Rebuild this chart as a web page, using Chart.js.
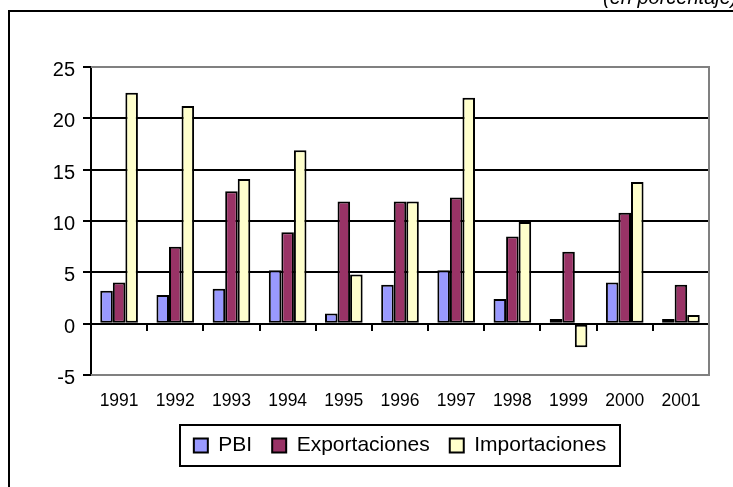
<!DOCTYPE html>
<html>
<head>
<meta charset="utf-8">
<script src="https://cdn.jsdelivr.net/npm/chart.js@4.4.1/dist/chart.umd.min.js"></script>
<style>
  body { margin: 0; background: #fff; }
</style>
</head>
<body>
<canvas id="grafico" width="733" height="487"></canvas>
<script>
// datos (en porcentaje)
var anios = ['1991', '1992', '1993', '1994', '1995', '1996', '1997', '1998', '1999', '2000', '2001'];
var pbi = [3.2, 2.8, 3.4, 5.2, 1.0, 3.8, 5.2, 2.4, 0.45, 4.0, 0.45];
var exportaciones = [4.0, 7.5, 12.9, 8.9, 11.9, 11.9, 12.3, 8.5, 7.0, 10.8, 3.8];
var importaciones = [22.5, 21.2, 14.1, 16.9, 4.8, 11.9, 22.0, 9.9, -2.3, 13.8, 0.85];
var yTicks = [-5, 0, 5, 10, 15, 20, 25];

var fuente = '"Liberation Sans", Arial, sans-serif';

// marco exterior, subtitulo y borde gris del area
var marco = {
    id: 'marco',
    beforeDraw: function (chart) {
        var ctx = chart.ctx;
        ctx.save();
        ctx.fillStyle = '#fff';
        ctx.fillRect(0, 0, chart.width, chart.height);
        ctx.strokeStyle = '#000';
        ctx.lineWidth = 2;
        ctx.beginPath();
        ctx.moveTo(9, chart.height);
        ctx.lineTo(9, 11);
        ctx.lineTo(chart.width, 11);
        ctx.stroke();
        ctx.fillStyle = '#000';
        ctx.font = 'italic 20px ' + fuente;
        ctx.textBaseline = 'alphabetic';
        ctx.fillText('(en porcentaje)', 603, 4);
        ctx.restore();
    },
    beforeDatasetsDraw: function (chart) {
        var a = chart.chartArea;
        var ctx = chart.ctx;
        ctx.save();
        ctx.strokeStyle = '#808080';
        ctx.lineWidth = 2;
        ctx.beginPath();
        ctx.moveTo(a.left, a.top);
        ctx.lineTo(a.right, a.top);
        ctx.lineTo(a.right, a.bottom);
        ctx.lineTo(a.left, a.bottom);
        ctx.stroke();
        ctx.restore();
    },
    afterDraw: function (chart) {
        var boxes = chart.legend.legendHitBoxes;
        if (!boxes || !boxes.length) return;
        var l = Infinity, t = Infinity, r = -Infinity, b = -Infinity;
        boxes.forEach(function (h) {
            l = Math.min(l, h.left);
            t = Math.min(t, h.top);
            r = Math.max(r, h.left + h.width);
            b = Math.max(b, h.top + h.height);
        });
        var ctx = chart.ctx;
        ctx.save();
        ctx.strokeStyle = '#000';
        ctx.lineWidth = 2;
        ctx.strokeRect(Math.round(l - 14), Math.round(t - 10), Math.round(r - l + 28), Math.round(b - t + 20));
        ctx.restore();
    }
};

new Chart(document.getElementById('grafico'), {
    type: 'bar',
    data: {
        labels: anios,
        datasets: [{
            label: 'PBI',
            data: pbi,
            backgroundColor: '#9999FF'
        }, {
            label: 'Exportaciones',
            data: exportaciones,
            backgroundColor: '#993366'
        }, {
            label: 'Importaciones',
            data: importaciones,
            backgroundColor: '#FFFFCC'
        }]
    },
    options: {
        responsive: false,
        animation: false,
        events: [],
        datasets: {
            bar: {
                borderColor: '#000',
                borderWidth: 2,
                borderSkipped: false,
                categoryPercentage: 0.67,
                barPercentage: 1.0
            }
        },
        layout: {
            padding: { top: 67, right: 24, bottom: 21, left: 0 }
        },
        plugins: {
            tooltip: { enabled: false },
            legend: {
                position: 'bottom',
                fullSize: false,
                labels: {
                    boxWidth: 14,
                    boxHeight: 14,
                    padding: 20,
                    color: '#000',
                    font: { family: fuente, size: 21 }
                }
            }
        },
        scales: {
            x: {
                position: 'bottom',
                grid: { display: false },
                border: { display: false },
                ticks: {
                    color: '#000',
                    padding: 8,
                    maxRotation: 0,
                    autoSkip: false,
                    font: { family: fuente, size: 17.5 }
                },
                afterFit: function (scale) { scale.height = 40; }
            },
            // eje de categorias en el cero, solo marcas
            xCero: {
                type: 'category',
                labels: anios,
                position: { y: 0 },
                offset: true,
                grid: {
                    offset: true,
                    drawOnChartArea: false,
                    drawTicks: true,
                    tickLength: 6,
                    color: '#000',
                    lineWidth: 2
                },
                border: { display: true, color: '#000', width: 2 },
                ticks: { display: false }
            },
            y: {
                min: -5,
                max: 25,
                afterBuildTicks: function (scale) {
                    scale.ticks = yTicks.map(function (v) { return { value: v }; });
                },
                grid: {
                    color: '#000',
                    lineWidth: 2,
                    tickLength: 8,
                    tickColor: '#000'
                },
                border: { color: '#000', width: 2 },
                ticks: {
                    color: '#000',
                    padding: 8,
                    labelOffset: 3.5,
                    font: { family: fuente, size: 20 }
                },
                afterFit: function (scale) { scale.width = 91; }
            }
        }
    },
    plugins: [marco]
});
</script>
</body>
</html>
